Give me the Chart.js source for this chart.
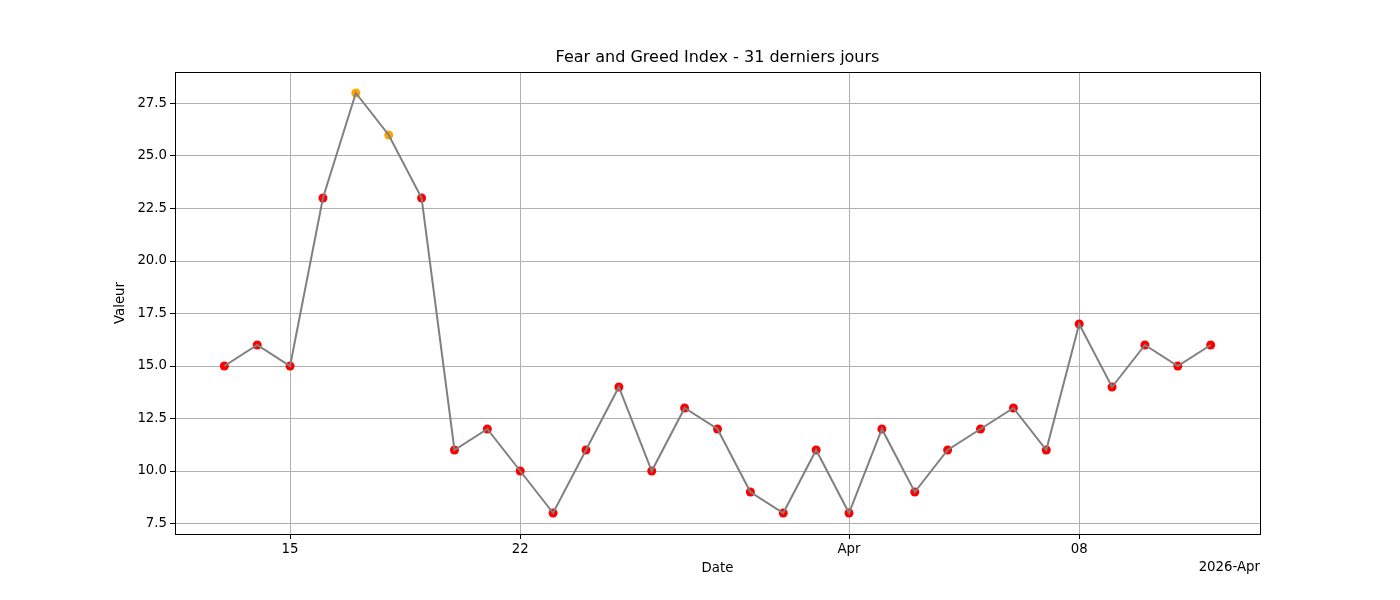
<!DOCTYPE html>
<html>
<head>
<meta charset="utf-8">
<script src="https://cdn.jsdelivr.net/npm/chart.js@4/dist/chart.umd.min.js"></script>
<style>
  html, body { margin: 0; padding: 0; background: #fff; }
  #wrap { width: 1400px; height: 600px; }
</style>
</head>
<body>
<div id="wrap"><canvas id="chart" width="1400" height="600"></canvas></div>
<script>
// 31 days, 2026-03-13 .. 2026-04-12
const dates = [
  '2026-03-13', '2026-03-14', '2026-03-15', '2026-03-16', '2026-03-17', '2026-03-18',
  '2026-03-19', '2026-03-20', '2026-03-21', '2026-03-22', '2026-03-23', '2026-03-24',
  '2026-03-25', '2026-03-26', '2026-03-27', '2026-03-28', '2026-03-29', '2026-03-30',
  '2026-03-31', '2026-04-01', '2026-04-02', '2026-04-03', '2026-04-04', '2026-04-05',
  '2026-04-06', '2026-04-07', '2026-04-08', '2026-04-09', '2026-04-10', '2026-04-11',
  '2026-04-12'
];
const values = [15, 16, 15, 23, 28, 26, 23, 11, 12, 10, 8, 11, 14, 10, 13, 12, 9, 8, 11, 8, 12, 9, 11, 12, 13, 11, 17, 14, 16, 15, 16];

// x tick positions (day index) and their labels
const xTickDays = [2, 9, 19, 26];
const xTickLabels = ['15', '22', 'Apr', '08'];
const yTicks = [7.5, 10.0, 12.5, 15.0, 17.5, 20.0, 22.5, 25.0, 27.5];
const offsetLabel = '2026-Apr';
const titleText = 'Fear and Greed Index - 31 derniers jours';

const FONT = "'DejaVu Sans', sans-serif";
const GRID = '#b0b0b0';

// extreme fear (<25) red, fear orange
const pointColors = values.map(v => v < 25 ? '#ff0000' : '#ffa500');
const points = values.map((v, i) => ({ x: i, y: v }));

// spines, title, axis labels and offset text, placed like matplotlib
const framePlugin = {
  id: 'frame',
  afterDraw(chart) {
    const { ctx, chartArea: a } = chart;
    const cx = (a.left + a.right) / 2;
    const cy = (a.top + a.bottom) / 2;
    ctx.save();
    ctx.strokeStyle = '#000';
    ctx.lineWidth = 1;
    ctx.strokeRect(a.left + 0.5, a.top + 0.5, a.right - a.left, a.bottom - a.top);
    ctx.fillStyle = '#000';
    ctx.textBaseline = 'middle';

    ctx.font = "16px " + FONT;
    ctx.textAlign = 'center';
    ctx.fillText(titleText, cx, 58);

    ctx.font = "13.3px " + FONT;
    ctx.fillText('Date', cx, 569);
    ctx.textAlign = 'right';
    ctx.fillText(offsetLabel, a.right, 568);

    ctx.translate(121, cy);
    ctx.rotate(-Math.PI / 2);
    ctx.textAlign = 'center';
    ctx.fillText('Valeur', 0, 0);
    ctx.restore();
  }
};

new Chart(document.getElementById('chart'), {
  type: 'scatter',
  data: {
    datasets: [
      {
        label: 'ligne',
        data: points,
        showLine: true,
        borderColor: '#808080',
        borderWidth: 2,
        pointRadius: 0,
        order: 0
      },
      {
        label: 'points',
        data: points,
        pointRadius: 4.5,
        pointHoverRadius: 4.5,
        pointBackgroundColor: pointColors,
        pointBorderWidth: 0,
        order: 1
      }
    ]
  },
  options: {
    responsive: false,
    animation: false,
    layout: { padding: { left: 0, right: 140, top: 72, bottom: 0 } },
    plugins: {
      legend: { display: false },
      tooltip: { enabled: false },
      title: { display: false }
    },
    scales: {
      x: {
        type: 'linear',
        min: -1.5,
        max: 31.5,
        afterBuildTicks(axis) {
          axis.ticks = xTickDays.map(v => ({ value: v }));
        },
        afterFit(axis) { axis.height = 66; },
        ticks: {
          color: '#000',
          font: { family: FONT, size: 13.3 },
          padding: 3,
          maxRotation: 0,
          callback(v) {
            const i = xTickDays.indexOf(v);
            return i >= 0 ? xTickLabels[i] : '';
          }
        },
        grid: { color: GRID, lineWidth: 1, tickColor: '#000', tickLength: 5 },
        border: { color: '#000', width: 1 }
      },
      y: {
        type: 'linear',
        min: 7.0,
        max: 29.0,
        afterBuildTicks(axis) {
          axis.ticks = yTicks.map(v => ({ value: v }));
        },
        afterFit(axis) { axis.width = 175; },
        ticks: {
          color: '#000',
          font: { family: FONT, size: 13.3 },
          padding: 3,
          callback: v => v.toFixed(1)
        },
        grid: { color: GRID, lineWidth: 1, tickColor: '#000', tickLength: 5 },
        border: { color: '#000', width: 1 }
      }
    }
  },
  plugins: [framePlugin]
});
</script>
</body>
</html>
